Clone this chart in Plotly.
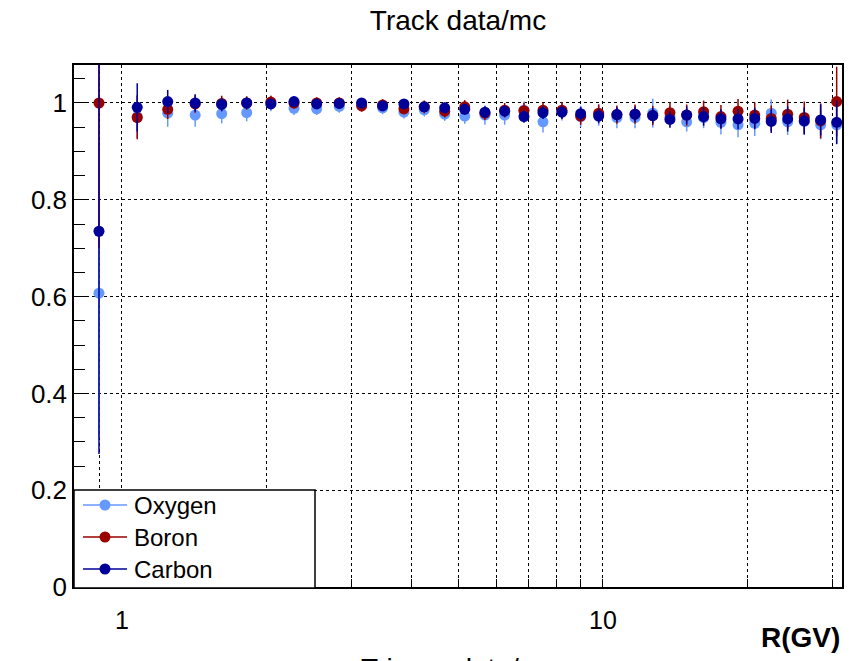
import numpy as np
import plotly.graph_objects as go

# Rigidity bin centres (GV)
rigidity = [0.896, 1.076, 1.245, 1.42, 1.612, 1.817, 2.04, 2.279, 2.54, 2.83,
            3.15, 3.483, 3.857, 4.251, 4.688, 5.16, 5.684, 6.246, 6.851, 7.505,
            8.218, 8.988, 9.797, 10.69, 11.66, 12.69, 13.78, 14.93, 16.19, 17.59,
            19.09, 20.68, 22.38, 24.21, 26.21, 28.35, 30.61]

oxygen = [0.607, 0.972, 0.979, 0.975, 0.978, 0.980, 0.999, 0.989, 0.988, 0.993,
          0.997, 0.990, 0.981, 0.986, 0.977, 0.973, 0.975, 0.975, 0.985, 0.961,
          0.982, 0.972, 0.975, 0.970, 0.970, 0.979, 0.972, 0.961, 0.970, 0.960,
          0.955, 0.958, 0.979, 0.961, 0.962, 0.955, 0.955]
oxygen_err = [0.30, 0.045, 0.028, 0.024, 0.020, 0.018, 0.016, 0.014, 0.013, 0.013,
              0.013, 0.013, 0.013, 0.014, 0.014, 0.016, 0.020, 0.020, 0.018, 0.022,
              0.018, 0.022, 0.022, 0.022, 0.022, 0.030, 0.022, 0.020, 0.022, 0.025,
              0.026, 0.026, 0.028, 0.027, 0.028, 0.030, 0.040]

boron = [1.000, 0.970, 0.987, 0.998, 0.999, 1.000, 1.002, 1.000, 1.000, 1.000,
         0.994, 0.996, 0.988, 0.992, 0.983, 0.992, 0.979, 0.985, 0.984, 0.985,
         0.985, 0.973, 0.979, 0.976, 0.977, 0.974, 0.980, 0.975, 0.982, 0.972,
         0.983, 0.975, 0.968, 0.977, 0.970, 0.963, 1.003]
boron_err = [0.30, 0.045, 0.020, 0.018, 0.016, 0.014, 0.013, 0.012, 0.012, 0.012,
             0.012, 0.012, 0.012, 0.013, 0.013, 0.014, 0.014, 0.015, 0.016, 0.016,
             0.017, 0.018, 0.018, 0.019, 0.020, 0.020, 0.021, 0.022, 0.023, 0.024,
             0.025, 0.026, 0.027, 0.030, 0.033, 0.036, 0.072]

carbon = [0.735, 0.991, 1.003, 1.000, 0.997, 1.000, 0.998, 1.003, 0.998, 0.999,
          1.000, 0.994, 0.998, 0.992, 0.990, 0.987, 0.981, 0.983, 0.972, 0.980,
          0.981, 0.978, 0.973, 0.976, 0.977, 0.974, 0.966, 0.975, 0.972, 0.967,
          0.967, 0.968, 0.962, 0.967, 0.963, 0.965, 0.960]
carbon_err = [0.46, 0.050, 0.024, 0.018, 0.014, 0.012, 0.011, 0.010, 0.010, 0.010,
              0.010, 0.010, 0.010, 0.010, 0.011, 0.011, 0.012, 0.012, 0.013, 0.013,
              0.014, 0.014, 0.015, 0.015, 0.016, 0.016, 0.017, 0.018, 0.019, 0.020,
              0.021, 0.022, 0.024, 0.026, 0.028, 0.032, 0.045]

series_names = ["Oxygen", "Boron", "Carbon"]
series_colors = ["#6699ff", "#990000", "#000099"]

x_grid_vals = [0.9, 1, 2, 3, 4, 5, 6, 7, 8, 9, 10, 20, 30]
x_grid_text = ["", "1", "", "", "", "", "", "", "", "", "10", "", ""]
y_tick_vals = [0, 0.2, 0.4, 0.6, 0.8, 1.0]
y_tick_text = ["0", "0.2", "0.4", "0.6", "0.8", "1"]

FONT = "Liberation Sans, Arial, Helvetica, sans-serif"
W, H = 861, 661
L, R, T, B = 74, 19, 65, 74
PW, PH = W - L - R, H - T - B


def px(xp):
    return (xp - L) / PW


def py(yp):
    return (H - B - yp) / PH


fig = go.Figure()
for name, vals, errs, col in zip(series_names, [oxygen, boron, carbon],
                                 [oxygen_err, boron_err, carbon_err], series_colors):
    fig.add_trace(go.Scatter(
        x=rigidity, y=vals, mode="markers", name=name, showlegend=False,
        marker=dict(color=col, size=11, line=dict(width=0)),
        error_y=dict(type="data", array=errs, color=col, thickness=1.5, width=0),
        cliponaxis=True,
    ))

axis_common = dict(
    showline=True, mirror=True, linecolor="black", linewidth=1.5,
    ticks="inside", tickcolor="black", tickwidth=1,
    showgrid=True, gridcolor="black", griddash="dot", gridwidth=1,
    zeroline=False,
)

fig.update_xaxes(
    type="log", range=[np.log10(0.795), np.log10(31.4)],
    tickmode="array", tickvals=x_grid_vals, ticktext=x_grid_text,
    ticklen=8, ticklabelstandoff=10,
    tickfont=dict(family=FONT, size=25, color="black"),
    **axis_common,
)
fig.update_yaxes(
    range=[0, 1.0785], tickmode="array", tickvals=y_tick_vals, ticktext=y_tick_text,
    ticklen=12, ticklabelstandoff=0,
    tickfont=dict(family=FONT, size=26, color="black"),
    minor=dict(dtick=0.05, tick0=0, ticks="inside", ticklen=11, tickcolor="black",
               showgrid=False),
    **axis_common,
)

# Legend box drawn in the lower-left corner of the frame
shapes = [dict(type="rect", xref="paper", yref="paper", x0=px(74), x1=px(315),
               y0=py(588), y1=py(490), fillcolor="white",
               line=dict(color="black", width=1.5), layer="above")]
annotations = []
for i, (name, col) in enumerate(zip(series_names, series_colors)):
    yy = py(505 + 32 * i)
    shapes.append(dict(type="line", xref="paper", yref="paper", x0=px(83), x1=px(127),
                       y0=yy, y1=yy, line=dict(color=col, width=1.5), layer="above"))
    shapes.append(dict(type="circle", xref="paper", yref="paper",
                       xsizemode="pixel", ysizemode="pixel",
                       xanchor=px(105), yanchor=yy, x0=-5.5, x1=5.5, y0=-5.5, y1=5.5,
                       fillcolor=col, line=dict(color=col, width=0), layer="above"))
    annotations.append(dict(text=name, xref="paper", yref="paper", x=px(132), y=yy,
                            xanchor="left", yanchor="middle", showarrow=False,
                            font=dict(family=FONT, size=24, color="black")))

annotations.append(dict(text="R(GV)", xref="paper", yref="paper", x=1.0, y=py(637),
                        xanchor="right", yanchor="middle", showarrow=False,
                        font=dict(family=FONT, size=28, color="black", weight="bold")))
annotations.append(dict(text="Trigger data/mc", xref="paper", yref="paper", x=0.5,
                        y=py(651), xanchor="center", yanchor="top", showarrow=False,
                        font=dict(family=FONT, size=28, color="black")))

fig.update_layout(
    width=W, height=H,
    margin=dict(l=L, r=R, t=T, b=B),
    paper_bgcolor="white", plot_bgcolor="white",
    title=dict(text="Track data/mc", x=0.5, xref="paper",
               y=1 - 20 / H, yref="container", xanchor="center", yanchor="middle",
               font=dict(family=FONT, size=28, color="black")),
    shapes=shapes, annotations=annotations,
    showlegend=False,
)

fig.write_html("out.html")
